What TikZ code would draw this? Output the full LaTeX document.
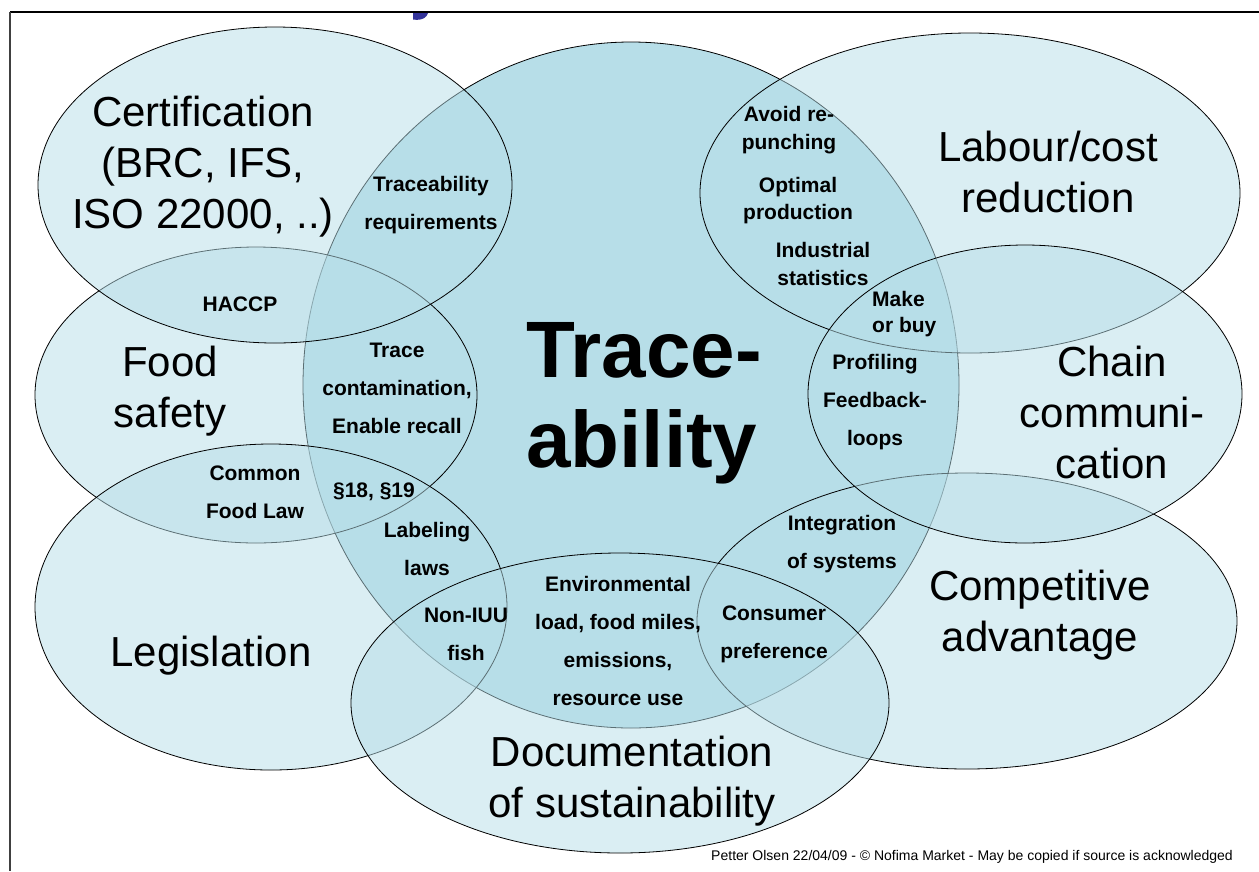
\documentclass[tikz,border=0pt]{standalone}
\usepackage{fontspec}
\setmainfont{Liberation Sans}
\definecolor{aqua}{HTML}{B7DEE8}
\definecolor{titleblue}{HTML}{333399}
\begin{document}
\begin{tikzpicture}[x=1pt,y=-1pt,
  ring/.style={draw=black, line width=0.8pt, fill=aqua, fill opacity=0.5},
  core/.style={draw=black, line width=0.8pt, fill=aqua},
  big/.style={font=\fontsize{42}{51}\selectfont, align=center, inner sep=0pt},
  small/.style={font=\bfseries\fontsize{21}{38}\selectfont, align=center, inner sep=0pt},
  tight/.style={font=\bfseries\fontsize{21}{27.5}\selectfont, align=center, inner sep=0pt},
  huge/.style={font=\bfseries\fontsize{80}{90}\selectfont, align=left, inner sep=0pt}]
\useasboundingbox (0,0) rectangle (1259,871);
\fill[white] (0,0) rectangle (1259,871);
% title remnant
\fill[titleblue] (413,13) -- (428,13) -- (426.5,16) .. controls (424,19.5) and (418,20.5) .. (413,19.5) -- cycle;
% frame
\draw[line width=2pt] (10,12) -- (1259,12);
\draw[line width=1.3pt, black!75] (10,12) -- (10,871);
% central ellipse
\path[core] (631,385) ellipse [x radius=328, y radius=343];
% surrounding ellipses
\path[ring] (256,395) ellipse [x radius=221, y radius=148];
\path[ring] (275,185) ellipse [x radius=237, y radius=158];
\path[ring] (271,607) ellipse [x radius=236, y radius=163];
\path[ring] (970,193) ellipse [x radius=270, y radius=160];
\path[ring] (967,621) ellipse [x radius=270, y radius=148];
\path[ring] (1025,394) ellipse [x radius=217, y radius=149];
\path[ring] (620,703) ellipse [x radius=269, y radius=150];
% big labels
\node[big] (cert) at (203,167) {Certification\\(BRC, IFS,\\ISO 22000, ..)};
\node[big] (food) at (170,391) {Food\\safety};
\node[big] (legis) at (211,656) {Legislation};
\node[big] (labour) at (1048,172) {Labour/cost\\reduction};
\node[big] (chain) at (1112,412) {Chain\\communi-\\cation};
\node[big] (comp) at (1040,615) {Competitive\\advantage};
\node[big] (docu) at (632,781) {Documentation\\of sustainability};
\node[huge, anchor=west] (trace) at (526,403) {Trace-\\ability};
% small labels
\node[small] (treq) at (431,205.5) {Traceability\\requirements};
\node[small] (haccp) at (240,304) {HACCP};
\node[small] (tcont) at (397,388) {Trace\\contamination,\\Enable recall};
\node[small] (cfl) at (255,492.5) {Common\\Food Law};
\node[small] (par) at (374,492) {\S18, \S19};
\node[small] (label) at (427,548.5) {Labeling\\laws};
\node[small] (iuu) at (466,634.5) {Non-IUU\\fish};
\node[small] (env) at (618,641) {Environmental\\load, food miles,\\emissions,\\resource use};
\node[tight] (avoid) at (789,130) {Avoid re-\\punching};
\node[tight] (optim) at (798,200.5) {Optimal\\production};
\node[tight] (indus) at (823,264) {Industrial\\statistics};
\node[tight, align=left, anchor=west, font=\bfseries\fontsize{21}{26}\selectfont] (make) at (872,314) {Make\\or buy};
\node[small] (prof) at (875,402) {Profiling\\Feedback-\\loops};
\node[small] (integ) at (842,544.5) {Integration\\of systems};
\node[small] (cons) at (774,634.5) {Consumer\\preference};
% footer
\node[font=\fontsize{14}{16}\selectfont, anchor=east, inner sep=0pt] (foot) at (1233,857) {Petter Olsen 22/04/09 - \textcopyright{} Nofima Market - May be copied if source is acknowledged};
\end{tikzpicture}
\end{document}
